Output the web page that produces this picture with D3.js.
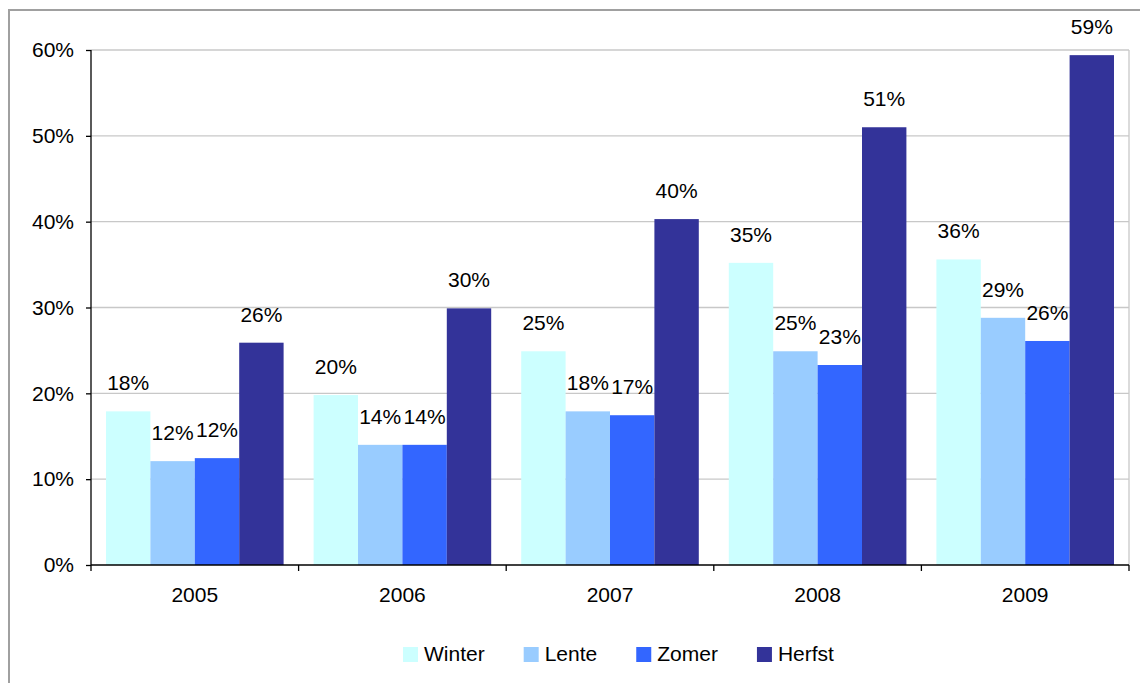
<!DOCTYPE html>
<html><head><meta charset="utf-8">
<script src="https://cdn.jsdelivr.net/npm/d3@7"></script>
<style>
html,body{margin:0;padding:0;background:#fff;}
svg{display:block;font-family:"Liberation Sans",Arial,sans-serif;}
</style></head>
<body>
<svg id="c" width="1140" height="683"></svg>
<script>
const years = ["2005","2006","2007","2008","2009"];
const seriesNames = ["Winter","Lente","Zomer","Herfst"];
const winter = [17.9, 19.8, 24.9, 35.2, 35.6];
const lente  = [12.1, 14.0, 17.9, 24.9, 28.8];
const zomer  = [12.45, 14.0, 17.45, 23.3, 26.1];
const herfst = [25.9, 29.9, 40.3, 51.0, 59.4];
const yTicks = [0, 10, 20, 30, 40, 50, 60];
const colors = ["#CCFFFF", "#99CCFF", "#3366FF", "#333399"];

const seriesValues = [winter, lente, zomer, herfst];
const svg = d3.select("#c");
const L = 91, R = 1129, T = 50, B = 565;
const FS = 21;

// outer frame
svg.append("rect").attr("x", 9).attr("y", 10).attr("width", 1140).attr("height", 700)
  .attr("fill", "none").attr("stroke", "#a0a0a0").attr("stroke-width", 2);

const x0 = d3.scaleBand().domain(years).range([L, R]).padding(0);
const gw = x0.bandwidth();
const x1 = d3.scaleBand().domain(seriesNames).range([15, gw - 15]).padding(0);
const y = d3.scaleLinear().domain([0, 60]).range([B, T]);

// gridlines
svg.append("g").selectAll("line").data(yTicks.filter(d => d > 0)).join("line")
  .attr("x1", L).attr("x2", R).attr("y1", d => y(d)).attr("y2", d => y(d))
  .attr("stroke", "#c8c8c8").attr("stroke-width", 1.3);
// right border
svg.append("line").attr("x1", R).attr("x2", R).attr("y1", T).attr("y2", B)
  .attr("stroke", "#c8c8c8").attr("stroke-width", 1.3);

// bars
const data = [];
years.forEach((yr, i) => seriesNames.forEach((s, j) => data.push({yr, s, j, v: seriesValues[j][i]})));
svg.append("g").selectAll("rect").data(data).join("rect")
  .attr("x", d => x0(d.yr) + x1(d.s))
  .attr("width", x1.bandwidth())
  .attr("y", d => y(d.v))
  .attr("height", d => B - y(d.v))
  .attr("fill", d => colors[d.j]);

// value labels
svg.append("g").selectAll("text").data(data).join("text")
  .attr("x", d => x0(d.yr) + x1(d.s) + x1.bandwidth() / 2)
  .attr("y", d => y(d.v) - 21)
  .attr("text-anchor", "middle")
  .attr("font-size", FS)
  .attr("fill", "#000")
  .text(d => Math.round(d.v) + "%");

// y axis
const yAxis = d3.axisLeft(y).tickValues(yTicks).tickSize(5).tickPadding(12).tickFormat(d => d + "%");
const gy = svg.append("g").attr("transform", `translate(${L},0)`).call(yAxis);
gy.select(".domain").attr("stroke", "#000").attr("stroke-width", 1.3).attr("d", `M0,${T}V${B}`);
gy.selectAll(".tick line").attr("stroke", "#000").attr("stroke-width", 1.3);
gy.selectAll(".tick text").attr("font-size", FS).attr("fill", "#000")
  .attr("font-family", "'Liberation Sans',Arial,sans-serif");

// x axis
const gx = svg.append("g").attr("transform", `translate(0,${B})`);
gx.append("line").attr("x1", L).attr("x2", R).attr("stroke", "#000").attr("stroke-width", 1.3);
const bounds = years.map(yr => x0(yr)).concat([R]);
gx.selectAll("line.tk").data(bounds).join("line").attr("class", "tk")
  .attr("x1", d => d).attr("x2", d => d).attr("y1", 0).attr("y2", 6)
  .attr("stroke", "#000").attr("stroke-width", 1.3);
gx.selectAll("text").data(years).join("text")
  .attr("x", d => x0(d) + gw / 2).attr("y", 37)
  .attr("text-anchor", "middle").attr("font-size", FS).attr("fill", "#000")
  .text(d => d);

// legend
const lg = svg.append("g");
let lx = 403;
seriesNames.forEach((s, j) => {
  lg.append("rect").attr("x", lx).attr("y", 647).attr("width", 15).attr("height", 15).attr("fill", colors[j]);
  const t = lg.append("text").attr("x", lx + 21).attr("y", 661).attr("font-size", FS).attr("fill", "#000").text(s);
  const w = t.node().getComputedTextLength();
  lx += 21 + w + 39;
});
</script>
</body></html>
